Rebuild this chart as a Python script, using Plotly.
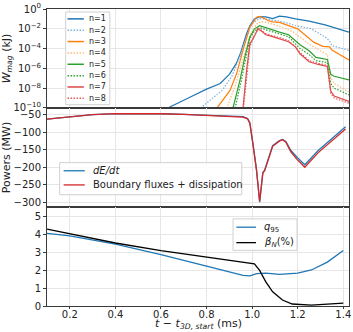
import plotly.graph_objects as go
from plotly.subplots import make_subplots

# --- W_mag per toroidal mode (kJ)
t_n1 = [0.60, 0.63, 0.72, 0.80, 0.86, 0.90, 0.93, 0.95, 0.975, 0.99, 1.01, 1.033, 1.06, 1.09, 1.12, 1.15, 1.19, 1.25, 1.32, 1.38, 1.425]
w_n1 = [3e-11, 1e-10, 1e-9, 8e-9, 3e-8, 2.5e-7, 3e-6, 4e-5, 3e-3, 2e-2, 1e-1, 1.7e-1, 1.6e-1, 1.1e-1, 1.9e-1, 1.6e-1, 1e-1, 6e-2, 2.5e-2, 1e-2, 4.5e-3]

t_n2 = [0.74, 0.774, 0.868, 0.911, 0.947, 0.976, 0.997, 1.03, 1.06, 1.09, 1.12, 1.16, 1.19, 1.26, 1.32, 1.34, 1.35, 1.425]
w_n2 = [3e-11, 1e-10, 6e-9, 1.6e-7, 1.6e-5, 2e-3, 3e-2, 1.1e-1, 1e-1, 8e-2, 6e-2, 3.5e-2, 2.1e-2, 1e-2, 1.5e-3, 6e-4, 2e-4, 6.5e-5]

t_n3 = [0.82, 0.846, 0.903, 0.932, 0.96, 0.99, 1.019, 1.035, 1.07, 1.09, 1.12, 1.16, 1.20, 1.27, 1.31, 1.34, 1.35, 1.425]
w_n3 = [3e-11, 1e-10, 6e-9, 3e-7, 7e-5, 1.5e-2, 1.5e-1, 1.8e-1, 7e-2, 5e-2, 4.5e-2, 2e-2, 1e-2, 4.5e-4, 1.7e-4, 1.5e-4, 7e-5, 7e-6]

t_n4 = [0.87, 0.889, 0.925, 0.96, 0.99, 1.019, 1.04, 1.07, 1.10, 1.13, 1.18, 1.26, 1.33, 1.345, 1.36, 1.425]
w_n4 = [3e-11, 1e-10, 1.5e-8, 7e-6, 2e-3, 3e-2, 5.5e-2, 4e-2, 2.5e-2, 1.6e-2, 4.7e-3, 2e-4, 2.5e-5, 1e-7, 3e-8, 4e-9]

t_n5 = [0.90, 0.916, 0.947, 0.968, 0.99, 1.011, 1.033, 1.06, 1.09, 1.12, 1.16, 1.21, 1.25, 1.28, 1.33, 1.345, 1.36, 1.425]
w_n5 = [3e-11, 1e-10, 7e-8, 1.5e-5, 1.5e-3, 1e-2, 2.1e-2, 1.3e-2, 7e-3, 4.7e-3, 2.5e-3, 2.5e-4, 6e-5, 1.3e-5, 8e-6, 2.5e-7, 1.6e-7, 6.8e-8]

t_n6 = [0.91, 0.925, 0.95, 0.97, 0.99, 1.01, 1.035, 1.06, 1.09, 1.12, 1.16, 1.21, 1.25, 1.28, 1.33, 1.345, 1.36, 1.425]
w_n6 = [3e-11, 1e-10, 3e-8, 6e-6, 1e-3, 6e-3, 1.3e-2, 8e-3, 5e-3, 3.2e-3, 1.6e-3, 1e-4, 2.5e-5, 6e-6, 4e-6, 3e-8, 1e-8, 2.1e-9]

t_n7 = [0.95, 0.96, 0.976, 0.99, 1.011, 1.025, 1.045, 1.06, 1.09, 1.12, 1.16, 1.19, 1.21, 1.25, 1.29, 1.33, 1.345, 1.36, 1.425]
w_n7 = [3e-11, 1e-10, 7e-7, 3e-4, 2e-3, 1e-2, 5e-3, 2.5e-3, 1.6e-3, 1e-3, 5e-4, 1.5e-4, 3e-5, 4.7e-6, 2.5e-6, 1.6e-6, 5e-9, 1.6e-9, 4.7e-10]

t_n8 = [0.95, 0.962, 0.978, 0.99, 1.011, 1.03, 1.045, 1.06, 1.09, 1.12, 1.16, 1.19, 1.21, 1.25, 1.29, 1.33, 1.345, 1.36, 1.425]
w_n8 = [3e-11, 1e-10, 3e-7, 1.6e-4, 2.5e-3, 1.1e-2, 6e-3, 3.2e-3, 2e-3, 1.3e-3, 6e-4, 1.6e-4, 4e-5, 6e-6, 3.2e-6, 2e-6, 3e-9, 1e-9, 3e-10]

# --- power balance (MW)
t_pow = [0.10, 0.20, 0.30, 0.40, 0.50, 0.60, 0.70, 0.80, 0.90, 0.96, 0.98, 0.99, 1.003, 1.019, 1.033, 1.047, 1.055, 1.062,
         1.09, 1.119, 1.133, 1.148, 1.17, 1.198, 1.231, 1.29, 1.35, 1.40, 1.41]
dEdt = [-62, -55, -49, -46, -45.5, -46.5, -48.5, -51, -53, -55, -60, -72, -129, -205, -300, -215, -208, -195,
        -138, -124, -120, -126, -152, -172, -193, -152, -118, -89, -84]
bnd = [-62, -55, -49, -46, -45.5, -46.5, -48.5, -51, -53, -56, -61, -74, -132, -208, -298, -217, -210, -197,
       -140, -125, -121, -128, -156, -178, -200, -158, -124, -95, -90]

# --- q95 and beta_N
t_q = [0.10, 0.20, 0.40, 0.60, 0.80, 0.96, 0.99, 1.02, 1.06, 1.12, 1.20, 1.26, 1.33, 1.40]
q95 = [4.03, 3.90, 3.44, 2.86, 2.22, 1.70, 1.67, 1.80, 1.83, 1.76, 1.83, 2.00, 2.44, 3.08]
t_b = [0.10, 0.20, 0.40, 0.60, 0.80, 0.99, 1.01, 1.033, 1.06, 1.09, 1.133, 1.176, 1.26, 1.40]
betaN = [4.27, 4.00, 3.50, 3.08, 2.71, 2.40, 2.34, 1.98, 1.34, 0.79, 0.33, 0.11, 0.05, 0.16]

modes = ['n=1', 'n=2', 'n=3', 'n=4', 'n=5', 'n=6', 'n=7', 'n=8']
mode_t = [t_n1, t_n2, t_n3, t_n4, t_n5, t_n6, t_n7, t_n8]
mode_w = [w_n1, w_n2, w_n3, w_n4, w_n5, w_n6, w_n7, w_n8]
mode_col = ['#1f77b4', '#7fb2dc', '#ff7f0e', '#ffbb78', '#2ca02c', '#2ca02c', 'rgba(214,39,40,0.85)', '#e8585a']
DOT = '1.5px,1.5px'
mode_dash = ['solid', DOT, 'solid', DOT, 'solid', DOT, 'solid', DOT]

FONT = 'DejaVu Sans'
GRID = '#e6e6e6'
AX = '#3a3a3a'

fig = make_subplots(rows=3, cols=1, shared_xaxes=True, vertical_spacing=0)

for name, tt, ww, c, d in zip(modes, mode_t, mode_w, mode_col, mode_dash):
    fig.add_trace(go.Scatter(x=tt, y=ww, mode='lines', name=name,
                             line=dict(color=c, width=1.2, dash=d)), row=1, col=1)

fig.add_trace(go.Scatter(x=t_pow, y=dEdt, mode='lines', name='dE/dt',
                         line=dict(color='#1f77b4', width=1.3)), row=2, col=1)
fig.add_trace(go.Scatter(x=t_pow, y=bnd, mode='lines', name='bnd',
                         line=dict(color='#d62728', width=1.3)), row=2, col=1)

fig.add_trace(go.Scatter(x=t_q, y=q95, mode='lines', name='q95',
                         line=dict(color='#1f77b4', width=1.3)), row=3, col=1)
fig.add_trace(go.Scatter(x=t_b, y=betaN, mode='lines', name='betaN',
                         line=dict(color='black', width=1.3)), row=3, col=1)

axis_common = dict(showgrid=True, gridcolor=GRID, gridwidth=1, showline=True, linecolor=AX,
                   linewidth=1, mirror=True, ticks='outside', ticklen=3, tickcolor=AX,
                   tickfont=dict(family=FONT, size=10, color='#222'), zeroline=False,
                   ticklabeloverflow='allow')

for r in (1, 2, 3):
    fig.update_xaxes(axis_common, range=[0.1, 1.425], dtick=0.2, tick0=0.2, tickformat='.1f', row=r, col=1)
fig.update_xaxes(ticklen=2, ticklabelstandoff=-3, row=3, col=1)

exps = [0, -2, -4, -6, -8, -10]
fig.update_yaxes(axis_common, type='log', range=[-10.002, 0.002],
                 tickvals=[10.0 ** e for e in exps],
                 ticktext=['10<sup>%s</sup>' % (str(e).replace('-', '−')) for e in exps],
                 title=dict(text='<i>W</i><sub><i>mag</i></sub> (kJ)', font=dict(family=FONT, size=11, color='#222'), standoff=2),
                 row=1, col=1)
fig.update_yaxes(axis_common, range=[-314, -30], tickvals=[-50, -100, -150, -200, -250, -300],
                 title=dict(text='Powers (MW)', font=dict(family=FONT, size=11, color='#222'), standoff=4),
                 row=2, col=1)
fig.update_yaxes(axis_common, range=[0, 5.5], tickvals=[0, 1, 2, 3, 4, 5], row=3, col=1)

# legends drawn by hand so the entries can sit as tight as in the original
shapes = []
annos = []

def legend_box(yref, x0, x1, y0, y1):
    shapes.append(dict(type='rect', xref='x domain', yref=yref, x0=x0, x1=x1, y0=y0, y1=y1,
                       line=dict(color='#d0d0d0', width=1), fillcolor='rgba(255,255,255,0.85)', layer='above'))

def legend_item(yref, xl0, xl1, xt, y, color, dash, text, size, width=1.3):
    shapes.append(dict(type='line', xref='x domain', yref=yref, x0=xl0, x1=xl1, y0=y, y1=y,
                       line=dict(color=color, width=width, dash=dash), layer='above'))
    annos.append(dict(xref='x domain', yref=yref, x=xt, y=y, text=text, showarrow=False,
                      xanchor='left', yanchor='middle', font=dict(family=FONT, size=size, color='#222')))

# top panel: domain height ~100 px, plot width 308 px
legend_box('y domain', 0.062, 0.208, 0.033, 0.97)
for i, (name, c, d) in enumerate(zip(modes, mode_col, mode_dash)):
    yy = 1 - (10 + 11.5 * i) / 100.3
    legend_item('y domain', 0.068, 0.122, 0.133, yy, c, d, name, 8, 1.5)

legend_box('y2 domain', 0.042, 0.645, 0.124, 0.448)
legend_item('y2 domain', 0.055, 0.125, 0.145, 0.366, '#1f77b4', 'solid', '<i>dE/dt</i>', 10)
legend_item('y2 domain', 0.055, 0.125, 0.145, 0.223, '#d62728', 'solid', 'Boundary fluxes + dissipation', 10)

legend_box('y3 domain', 0.616, 0.828, 0.562, 0.88)
legend_item('y3 domain', 0.627, 0.692, 0.712, 0.796, '#1f77b4', 'solid', '<i>q</i><sub>95</sub>', 10)
legend_item('y3 domain', 0.627, 0.692, 0.712, 0.64, 'black', 'solid', '<i>β</i><sub><i>N</i></sub>(%)', 10)

# x-axis title placed as an annotation below the tick labels
annos.append(dict(xref='paper', yref='paper', x=0.5, y=-0.06, yanchor='middle', showarrow=False,
                  text='<i>t</i> − <i>t</i><sub><i>3D, start</i></sub> (ms)',
                  font=dict(family=FONT, size=11, color='#222')))

fig.update_layout(
    width=353, height=332,
    margin=dict(l=43, r=2, t=5, b=26),
    plot_bgcolor='white', paper_bgcolor='white',
    showlegend=False,
    shapes=shapes, annotations=annos,
    font=dict(family=FONT, size=10, color='#222'),
)

fig.write_html("out.html", config={'displayModeBar': False},
               post_script="document.body.style.margin='0';")
